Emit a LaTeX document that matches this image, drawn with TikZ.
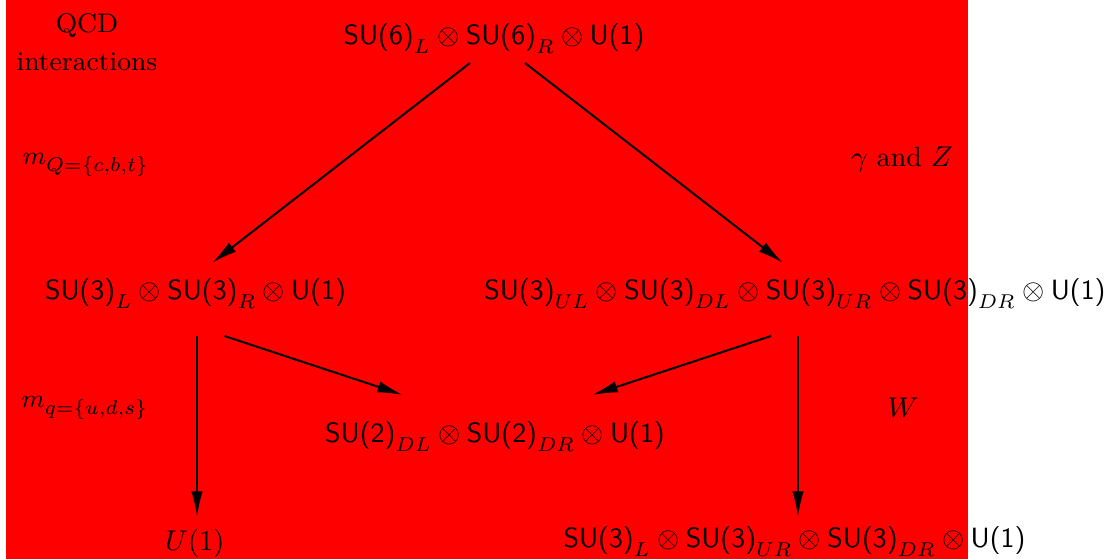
\documentclass[tikz,border=0pt]{standalone}
\usetikzlibrary{arrows.meta,calc}
\begin{document}
\begin{tikzpicture}[x=0.35pt,y=-0.35pt,
  lbl/.style={anchor=base,inner sep=0pt,font=\fontsize{9.75}{12}\selectfont},
  txt/.style={anchor=base,inner sep=0pt,font=\fontsize{9.4}{12}\selectfont},
  arr/.style={-{Latex[length=9pt,width=4pt]}, line width=0.7pt}]
\useasboundingbox (0,0) rectangle (1107,559);
\fill[red] (6,0) rectangle (968,559);
\node[lbl] (top) at (494,45) {$\textsf{SU(6)}_L\otimes\textsf{SU(6)}_R\otimes\textsf{U(1)}$};
\node[txt] (qcd1) at (87,33) {QCD};
\node[txt] (qcd2) at (87,71) {interactions};
\node[txt] (mQ) at (86,165) {$m_{Q=\{c,b,t\}}$};
\node[lbl] (gz) at (902,167) {$\gamma$ and $Z$};
\node[lbl] (left) at (195.5,300) {$\textsf{SU(3)}_L\otimes\textsf{SU(3)}_R\otimes\textsf{U(1)}$};
\node[lbl] (right) at (795,300) {$\textsf{SU(3)}_{UL}\otimes\textsf{SU(3)}_{DL}\otimes\textsf{SU(3)}_{UR}\otimes\textsf{SU(3)}_{DR}\otimes\textsf{U(1)}$};
\node[txt] (mq) at (85,408) {$m_{q=\{u,d,s\}}$};
\node[lbl] (w) at (903,418) {$W$};
\node[lbl] (su2) at (495,443) {$\textsf{SU(2)}_{DL}\otimes\textsf{SU(2)}_{DR}\otimes\textsf{U(1)}$};
\node[lbl] (u1) at (195,550) {$U(1)$};
\node[lbl] (br) at (794.5,548) {$\textsf{SU(3)}_L\otimes\textsf{SU(3)}_{UR}\otimes\textsf{SU(3)}_{DR}\otimes\textsf{U(1)}$};
\draw[arr] ($(top.base)+(-24,18)$) -- ($(left.base)+(16.5,-37)$);
\draw[arr] ($(top.base)+(31,18)$) -- ($(right.base)+(-12,-37)$);
\draw[arr] ($(left.base)+(1.5,36)$) -- ($(u1.base)+(2,-33)$);
\draw[arr] ($(left.base)+(29,36)$) -- ($(su2.base)+(-92,-48)$);
\draw[arr] ($(right.base)+(-24,36)$) -- ($(su2.base)+(97,-48)$);
\draw[arr] ($(right.base)+(3,36)$) -- ($(br.base)+(3.5,-31)$);
\end{tikzpicture}
\end{document}
